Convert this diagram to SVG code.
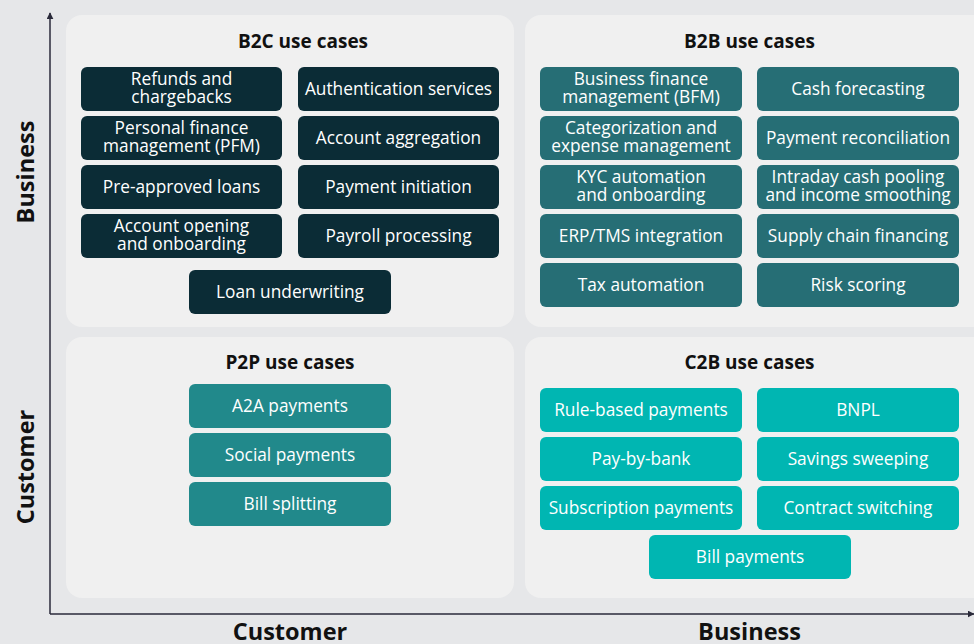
<svg xmlns="http://www.w3.org/2000/svg" width="974" height="644" viewBox="0 0 974 644">
<defs>
<style>
.bg{fill:#e6e7e9}
.panel{fill:#f0f0f0}
.n rect{rx:6px;ry:6px}
.d rect{fill:#0b2c36}
.m rect{fill:#266e75}
.p rect{fill:#21898b}
.c rect{fill:#00b6b2}
.n text{font-family:"Open Sans","Noto Sans",sans-serif;font-size:17.3px;fill:#ffffff;text-anchor:middle}
.t{font-family:"Open Sans","Noto Sans",sans-serif;font-size:19px;font-weight:bold;fill:#111;text-anchor:middle}
.ax{font-family:"Open Sans","Noto Sans",sans-serif;font-size:23.5px;font-weight:bold;fill:#111;text-anchor:middle}
.axl{stroke:#2a2a3a;stroke-width:1.5;fill:none}
</style>
<marker id="ah" viewBox="0 0 10 10" refX="9" refY="5" markerWidth="7" markerHeight="7" orient="auto" markerUnits="userSpaceOnUse">
<path d="M0,0 L10,5 L0,10 z" fill="#2a2a3a"/>
</marker>
</defs>
<rect class="bg" x="0" y="0" width="974" height="644"/>
<rect class="panel" x="66" y="15" width="448" height="312" rx="16"/>
<rect class="panel" x="525" y="15" width="465" height="312" rx="16"/>
<rect class="panel" x="66" y="337" width="448" height="261" rx="16"/>
<rect class="panel" x="525" y="337" width="465" height="261" rx="16"/>

<g id="axes">
<line class="axl" x1="50" y1="614" x2="50" y2="13" marker-end="url(#ah)"/>
<line class="axl" x1="50" y1="614" x2="974" y2="614" marker-end="url(#ah)"/>
</g>

<text class="t" x="303" y="48">B2C use cases</text>
<text class="t" x="749.5" y="48">B2B use cases</text>
<text class="t" x="290" y="369">P2P use cases</text>
<text class="t" x="749.5" y="369">C2B use cases</text>

<text class="ax" transform="translate(34,172) rotate(-90)">Business</text>
<text class="ax" transform="translate(34,467) rotate(-90)">Customer</text>
<text class="ax" x="290" y="640">Customer</text>
<text class="ax" x="749.5" y="640">Business</text>

<g id="b2c">
<g id="n-refunds" class="n d"><rect x="81" y="67" width="201" height="44"/><text x="181.5" y="85">Refunds and</text><text x="181.5" y="103">chargebacks</text></g>
<g id="n-auth" class="n d"><rect x="298" y="67" width="201" height="44"/><text x="398.5" y="95">Authentication services</text></g>
<g id="n-pfm" class="n d"><rect x="81" y="116" width="201" height="44"/><text x="181.5" y="134">Personal finance</text><text x="181.5" y="152">management (PFM)</text></g>
<g id="n-agg" class="n d"><rect x="298" y="116" width="201" height="44"/><text x="398.5" y="144">Account aggregation</text></g>
<g id="n-loans" class="n d"><rect x="81" y="165" width="201" height="44"/><text x="181.5" y="193">Pre-approved loans</text></g>
<g id="n-pay" class="n d"><rect x="298" y="165" width="201" height="44"/><text x="398.5" y="193">Payment initiation</text></g>
<g id="n-open" class="n d"><rect x="81" y="214" width="201" height="44"/><text x="181.5" y="232">Account opening</text><text x="181.5" y="250">and onboarding</text></g>
<g id="n-payroll" class="n d"><rect x="298" y="214" width="201" height="44"/><text x="398.5" y="242">Payroll processing</text></g>
<g id="n-underw" class="n d"><rect x="189" y="270" width="202" height="44"/><text x="290" y="298">Loan underwriting</text></g>
</g>

<g id="b2b">
<g id="n-bfm" class="n m"><rect x="540" y="67" width="202" height="44"/><text x="641" y="85">Business finance</text><text x="641" y="103">management (BFM)</text></g>
<g id="n-cash" class="n m"><rect x="757" y="67" width="202" height="44"/><text x="858" y="95">Cash forecasting</text></g>
<g id="n-cat" class="n m"><rect x="540" y="116" width="202" height="44"/><text x="641" y="134">Categorization and</text><text x="641" y="152">expense management</text></g>
<g id="n-recon" class="n m"><rect x="757" y="116" width="202" height="44"/><text x="858" y="144">Payment reconciliation</text></g>
<g id="n-kyc" class="n m"><rect x="540" y="165" width="202" height="44"/><text x="641" y="183">KYC automation</text><text x="641" y="201">and onboarding</text></g>
<g id="n-intraday" class="n m"><rect x="757" y="165" width="202" height="44"/><text x="858" y="183">Intraday cash pooling</text><text x="858" y="201">and income smoothing</text></g>
<g id="n-erp" class="n m"><rect x="540" y="214" width="202" height="44"/><text x="641" y="242">ERP/TMS integration</text></g>
<g id="n-supply" class="n m"><rect x="757" y="214" width="202" height="44"/><text x="858" y="242">Supply chain financing</text></g>
<g id="n-tax" class="n m"><rect x="540" y="263" width="202" height="44"/><text x="641" y="291">Tax automation</text></g>
<g id="n-risk" class="n m"><rect x="757" y="263" width="202" height="44"/><text x="858" y="291">Risk scoring</text></g>
</g>

<g id="p2p">
<g id="n-a2a" class="n p"><rect x="189" y="384" width="202" height="44"/><text x="290" y="412">A2A payments</text></g>
<g id="n-social" class="n p"><rect x="189" y="433" width="202" height="44"/><text x="290" y="461">Social payments</text></g>
<g id="n-split" class="n p"><rect x="189" y="482" width="202" height="44"/><text x="290" y="510">Bill splitting</text></g>
</g>

<g id="c2b">
<g id="n-rule" class="n c"><rect x="540" y="388" width="202" height="44"/><text x="641" y="416">Rule-based payments</text></g>
<g id="n-bnpl" class="n c"><rect x="757" y="388" width="202" height="44"/><text x="858" y="416">BNPL</text></g>
<g id="n-pbb" class="n c"><rect x="540" y="437" width="202" height="44"/><text x="641" y="465">Pay-by-bank</text></g>
<g id="n-sweep" class="n c"><rect x="757" y="437" width="202" height="44"/><text x="858" y="465">Savings sweeping</text></g>
<g id="n-sub" class="n c"><rect x="540" y="486" width="202" height="44"/><text x="641" y="514">Subscription payments</text></g>
<g id="n-switch" class="n c"><rect x="757" y="486" width="202" height="44"/><text x="858" y="514">Contract switching</text></g>
<g id="n-billpay" class="n c"><rect x="649" y="535" width="202" height="44"/><text x="750" y="563">Bill payments</text></g>
</g>
</svg>
